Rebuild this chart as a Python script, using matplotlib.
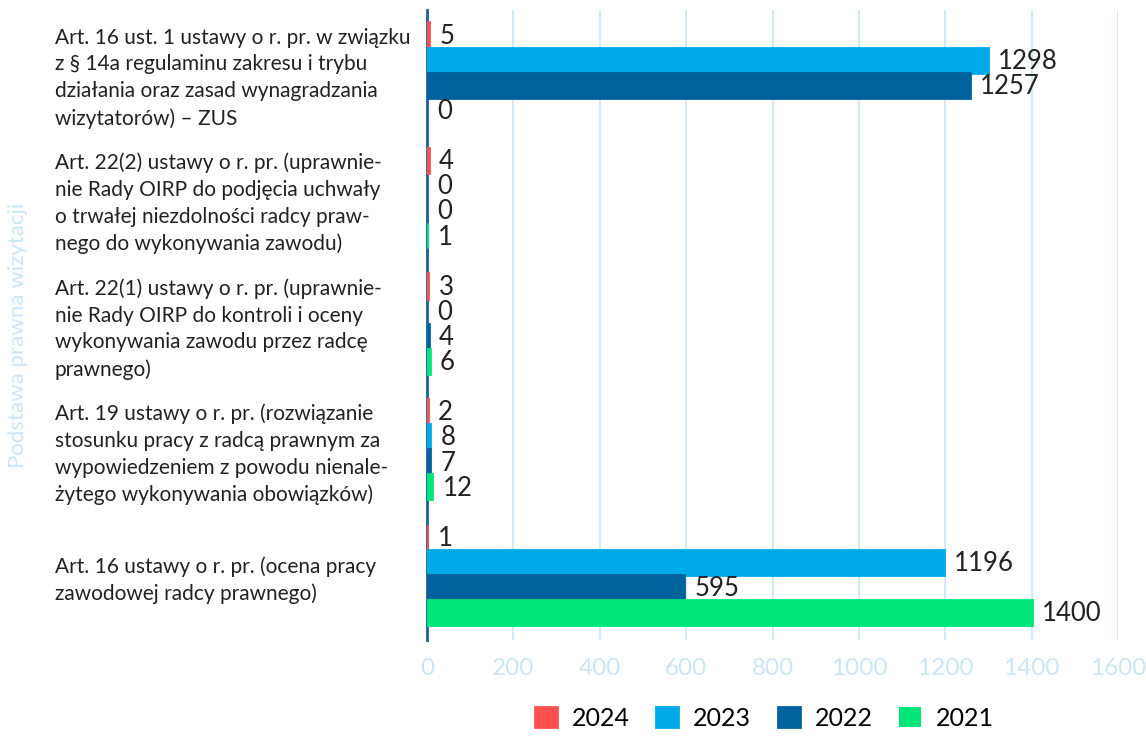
import numpy as np
import matplotlib.pyplot as plt

plt.rcParams['font.family'] = ['Lato', 'DejaVu Sans']

categories = [
    "Art. 16 ust. 1 ustawy o r. pr. w związku\nz § 14a regulaminu zakresu i trybu\ndziałania oraz zasad wynagradzania\nwizytatorów) – ZUS",
    "Art. 22(2) ustawy o r. pr. (uprawnie-\nnie Rady OIRP do podjęcia uchwały\no trwałej niezdolności radcy praw-\nnego do wykonywania zawodu)",
    "Art. 22(1) ustawy o r. pr. (uprawnie-\nnie Rady OIRP do kontroli i oceny\nwykonywania zawodu przez radcę\nprawnego)",
    "Art. 19 ustawy o r. pr. (rozwiązanie\nstosunku pracy z radcą prawnym za\nwypowiedzeniem z powodu nienale-\nżytego wykonywania obowiązków)",
    "Art. 16 ustawy o r. pr. (ocena pracy\nzawodowej radcy prawnego)",
]
years = ["2024", "2023", "2022", "2021"]
v2024 = [5, 4, 3, 2, 1]
v2023 = [1298, 0, 0, 8, 1196]
v2022 = [1257, 0, 4, 7, 595]
v2021 = [0, 1, 6, 12, 1400]
colors = ["#FF4F4F", "#00AAE7", "#00629C", "#00E678"]

series = [v2024, v2023, v2022, v2021]

fig = plt.figure(figsize=(11.46, 7.37), dpi=100)
ax = fig.add_axes([0.3726, 0.1316, 0.603, 0.855])

y = np.arange(len(categories))
h = 0.2
for k, (vals, col, yr) in enumerate(zip(series, colors, years)):
    pos = y + (k - 1.5) * h
    lw = [2.0 if v > 0 else 0 for v in vals]
    ax.barh(pos, vals, height=h, color=col, edgecolor=col, linewidth=lw,
            label=yr, zorder=3)
    for p, v in zip(pos, vals):
        ax.text(v + 24, p + 0.01, str(v), va='center', ha='left', fontsize=18.5,
                color='#222222', zorder=4)

ax.set_xlim(0, 1600)
ax.set_ylim(4.52, -0.5)
ax.set_xticks(np.arange(0, 1601, 200))
ax.set_yticks(y)
ax.set_yticklabels(categories, ha='left', fontsize=15, color='#222222',
                   linespacing=1.42)
ax.tick_params(axis='y', length=0, pad=268)
ax.tick_params(axis='x', length=0, pad=13, labelsize=17.5, labelcolor='#CDE6F4')
ax.grid(axis='x', color='#D3E9F5', linewidth=1.5, zorder=0)
for s in ['top', 'right', 'bottom']:
    ax.spines[s].set_visible(False)
ax.spines['left'].set_color('#1A5F99')
ax.spines['left'].set_linewidth(2)
ax.spines['left'].set_zorder(2)

fig.text(0.016, 0.545, "Podstawa prawna wizytacji", rotation=90, va='center',
         ha='center', fontsize=16, color='#CDE6F4')

fig.legend(loc='lower center', bbox_to_anchor=(0.667, 0.0), ncol=4, frameon=False,
           fontsize=18, handlelength=0.88, handleheight=0.88, columnspacing=1.05,
           handletextpad=0.6, borderaxespad=0.1, borderpad=0.2)

fig.savefig("out.png", dpi=100)
